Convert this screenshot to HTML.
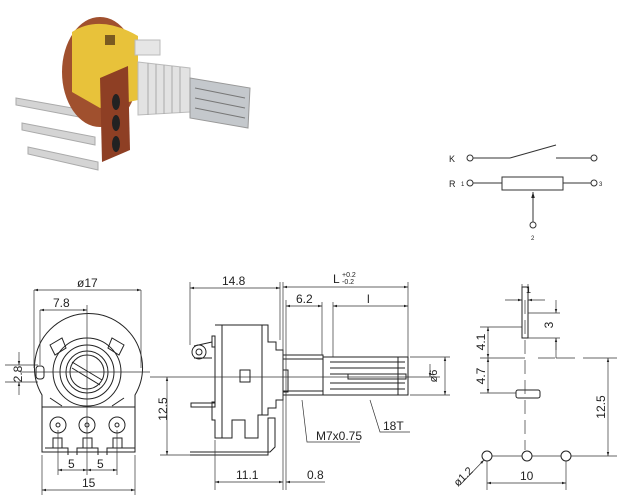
<!DOCTYPE html>
<html><head><style>
html,body{margin:0;padding:0;background:#fff;}
svg{display:block;}
text{font-family:"Liberation Sans",sans-serif;fill:#222;}
</style></head><body>
<svg width="620" height="500" viewBox="0 0 620 500" xmlns="http://www.w3.org/2000/svg">
<defs>
<marker id="a" viewBox="0 0 10 10" refX="10" refY="5" markerWidth="6" markerHeight="6" orient="auto-start-reverse"><path d="M0,2L10,5L0,8z" fill="#222"/></marker>
</defs>
<rect width="620" height="500" fill="#fff"/>
<!-- photo -->
<g>
<path d="M16,98 L95,112 L95,120 L16,105z" fill="#d4d4d4" stroke="#aaa"/>
<path d="M22,123 L95,137 L95,145 L22,130z" fill="#d4d4d4" stroke="#aaa"/>
<path d="M28,147 L98,162 L98,170 L28,154z" fill="#d4d4d4" stroke="#aaa"/>
<ellipse cx="100" cy="72" rx="38" ry="55" fill="#a0502e"/>
<path d="M72,32 Q100,14 138,36 L138,100 L100,108 L72,92z" fill="#e8c23a"/>
<rect x="105" y="35" width="10" height="10" fill="#7a5a20"/>
<path d="M100,78 L128,66 L130,150 L102,162z" fill="#8e3f24"/>
<ellipse cx="116" cy="102" rx="4" ry="8" fill="#222"/>
<ellipse cx="116" cy="123" rx="4" ry="8" fill="#222"/>
<ellipse cx="116" cy="144" rx="4" ry="8" fill="#222"/>
<path d="M135,40 L160,40 L160,55 L135,55z" fill="#e6e6e6" stroke="#bbb"/>
<path d="M138,62 L190,68 L190,112 L138,115z" fill="#e2e2e2" stroke="#bbb"/>
<path d="M148,63 L148,115 M156,64 L156,114 M164,65 L164,114 M172,66 L172,113 M180,67 L180,113" stroke="#aaa"/>
<path d="M190,78 L250,88 L248,128 L190,118z" fill="#c4c8cc" stroke="#999"/>
<path d="M195,88 L245,98 M195,98 L245,108 M195,108 L245,118" stroke="#777"/>
</g>
<!-- schematic -->
<g stroke="#333" stroke-width="1" fill="none">
<circle cx="470" cy="158" r="3"/><line x1="473" y1="158" x2="510" y2="158"/><line x1="510" y1="158" x2="556" y2="145"/>
<line x1="556" y1="158" x2="591" y2="158"/><circle cx="594" cy="158" r="3"/>
<circle cx="470" cy="183" r="3"/><line x1="473" y1="183" x2="502" y2="183"/>
<rect x="502" y="177" width="61" height="13"/>
<line x1="563" y1="183" x2="591" y2="183"/><circle cx="594" cy="183" r="3"/>
<line x1="533" y1="222" x2="533" y2="192" marker-end="url(#a)"/><circle cx="533" cy="225" r="3"/>
</g>
<text x="449" y="162" font-size="9">K</text>
<text x="449" y="187" font-size="9">R</text>
<text x="461" y="186" font-size="6">1</text>
<text x="599" y="186" font-size="6">3</text>
<text x="531" y="240" font-size="6">2</text>
<!-- front view -->
<g stroke="#222" stroke-width="1" fill="none">
<path d="M42,407 L42,395 A54,54 0 1 1 135,395 L135,407"/>
<rect x="42" y="407" width="93" height="45"/>
<circle cx="87" cy="372" r="34"/>
<circle cx="87" cy="372" r="27"/>
<circle cx="87" cy="372" r="21"/>
<circle cx="87" cy="372" r="17"/>
<line x1="72" y1="362" x2="102" y2="380"/><line x1="72" y1="368" x2="100" y2="385"/>
<path d="M50,345 L62,338 L66,348 L55,355z"/><path d="M124,345 L112,338 L108,348 L119,355z"/>
<path d="M50,398 L62,406 M124,398 L112,406"/>
<rect x="36" y="366" width="8" height="13" rx="3"/>
<circle cx="58" cy="425" r="8"/><circle cx="87" cy="425" r="8"/><circle cx="117" cy="425" r="8"/>
<circle cx="58" cy="425" r="2"/><circle cx="87" cy="425" r="2"/><circle cx="117" cy="425" r="2"/>
<rect x="53" y="438" width="9" height="10"/><rect x="83" y="438" width="9" height="10"/><rect x="113" y="438" width="9" height="10"/>
<path d="M45,448 L68,448 L68,455 M77,455 L77,448 L98,448 L98,455 M107,455 L107,448 L135,448"/>
</g>
<g stroke="#333" stroke-width="0.7" fill="none">
<line x1="20" y1="372" x2="150" y2="372"/><line x1="87" y1="305" x2="87" y2="475"/>
<line x1="34" y1="290" x2="34" y2="368"/><line x1="141" y1="290" x2="141" y2="368"/>
<line x1="34" y1="290" x2="141" y2="290" marker-start="url(#a)" marker-end="url(#a)"/>
<line x1="40" y1="310" x2="40" y2="365"/>
<line x1="40" y1="310" x2="87" y2="310" marker-start="url(#a)" marker-end="url(#a)"/>
<line x1="5" y1="365" x2="38" y2="365"/><line x1="5" y1="382" x2="38" y2="382"/>
<line x1="19" y1="352" x2="19" y2="365" marker-end="url(#a)"/><line x1="19" y1="395" x2="19" y2="382" marker-end="url(#a)"/>
<line x1="58" y1="430" x2="58" y2="475"/><line x1="117" y1="430" x2="117" y2="475"/>
<line x1="58" y1="470" x2="87" y2="470" marker-start="url(#a)" marker-end="url(#a)"/>
<line x1="87" y1="470" x2="117" y2="470" marker-start="url(#a)" marker-end="url(#a)"/>
<line x1="42" y1="455" x2="42" y2="495"/><line x1="135" y1="455" x2="135" y2="495"/>
<line x1="42" y1="490" x2="135" y2="490" marker-start="url(#a)" marker-end="url(#a)"/>
</g>
<text x="77" y="287" font-size="12">ø17</text>
<text x="53" y="307" font-size="12">7.8</text>
<text x="15" y="381" font-size="12" transform="rotate(-90 15 374)" text-anchor="middle">2.8</text>
<text x="68" y="468" font-size="12">5</text>
<text x="97" y="468" font-size="12">5</text>
<text x="82" y="487" font-size="12">15</text>
<!-- side view -->
<g stroke="#222" stroke-width="1" fill="none">
<path d="M215,325 L268,325 L268,342 L276,342 L276,350 L283,350 L283,370 L288,370 L288,392 L283,392 L283,400 L276,400 L276,408 L268,408 L268,415 L258,415 L258,438 L245,438 L245,420 L232,420 L232,438 L215,438 L215,420 L212,420 L212,402 L215,402 L215,336 L212,336 L212,347 L215,347"/>
<line x1="222" y1="325" x2="222" y2="438"/><line x1="262" y1="325" x2="262" y2="415"/>
<rect x="240" y="370" width="10" height="12"/>
<circle cx="199" cy="352" r="7"/><circle cx="199" cy="352" r="3"/>
<path d="M194,346 L212,342 M194,358 L212,358"/>
<rect x="191" y="403" width="24" height="4"/>
<path d="M190,452 L270,452 L275,447 L275,418 L268,418 L268,455 L190,455"/>
<rect x="283" y="355" width="40" height="40"/>
<line x1="283" y1="359" x2="323" y2="359"/><line x1="283" y1="391" x2="323" y2="391"/>
<rect x="323" y="357" width="85" height="38"/>
<path d="M330,362 L405,362 M330,368 L405,368 M330,374 L405,374 M330,383 L405,383 M330,389 L405,389"/>
<rect x="348" y="374" width="58" height="5"/>
<line x1="398" y1="357" x2="398" y2="395"/>
</g>
<g stroke="#333" stroke-width="0.7" fill="none">
<line x1="150" y1="377" x2="440" y2="377"/>
<line x1="190" y1="282" x2="190" y2="345"/><line x1="280" y1="282" x2="280" y2="340"/>
<line x1="190" y1="288" x2="280" y2="288" marker-start="url(#a)" marker-end="url(#a)"/>
<line x1="283" y1="282" x2="283" y2="490"/><line x1="286" y1="300" x2="286" y2="490"/>
<line x1="408" y1="282" x2="408" y2="357"/>
<line x1="283" y1="287" x2="408" y2="287" marker-start="url(#a)" marker-end="url(#a)"/>
<line x1="322" y1="302" x2="322" y2="355"/><line x1="333" y1="302" x2="333" y2="357"/>
<line x1="286" y1="306" x2="322" y2="306" marker-start="url(#a)" marker-end="url(#a)"/>
<line x1="333" y1="306" x2="408" y2="306" marker-start="url(#a)" marker-end="url(#a)"/>
<line x1="410" y1="357" x2="450" y2="357"/><line x1="410" y1="395" x2="450" y2="395"/>
<line x1="445" y1="357" x2="445" y2="395" marker-start="url(#a)" marker-end="url(#a)"/>
<line x1="430" y1="364" x2="430" y2="377" marker-end="url(#a)"/>
<line x1="160" y1="455" x2="190" y2="455"/>
<line x1="167" y1="377" x2="167" y2="455" marker-start="url(#a)" marker-end="url(#a)"/>
<line x1="215" y1="440" x2="215" y2="490"/>
<line x1="215" y1="482" x2="283" y2="482" marker-start="url(#a)" marker-end="url(#a)"/>
<line x1="325" y1="482" x2="286" y2="482" marker-end="url(#a)"/>
<polyline points="302,400 307,442 360,442"/>
<polyline points="370,400 380,432 410,432"/>
</g>
<text x="222" y="285" font-size="12">14.8</text>
<text x="333" y="283" font-size="12">L</text>
<text x="342" y="277" font-size="7">+0.2</text>
<text x="342" y="284" font-size="7">-0.2</text>
<text x="296" y="303" font-size="12">6.2</text>
<text x="367" y="303" font-size="12">l</text>
<text x="435" y="378" font-size="11" transform="rotate(-90 435 376)" text-anchor="middle">ø6</text>
<text x="165" y="411" font-size="12" transform="rotate(-90 165 409)" text-anchor="middle">12.5</text>
<text x="236" y="479" font-size="12">11.1</text>
<text x="307" y="479" font-size="12">0.8</text>
<text x="316" y="440" font-size="12">M7x0.75</text>
<text x="383" y="430" font-size="12">18T</text>
<!-- right view -->
<g stroke="#222" stroke-width="1" fill="none">
<rect x="522" y="287" width="6" height="51"/>
<rect x="516" y="390" width="24" height="8" rx="2"/>
<circle cx="487" cy="456" r="5"/><circle cx="527" cy="456" r="5"/><circle cx="566" cy="456" r="5"/>
</g>
<g stroke="#333" stroke-width="0.7" fill="none">
<line x1="525" y1="300" x2="525" y2="450" stroke-dasharray="14,6"/>
<line x1="480" y1="358" x2="525" y2="358"/>
<line x1="538" y1="358" x2="555" y2="358"/><line x1="556" y1="358" x2="575" y2="358"/><line x1="583" y1="358" x2="617" y2="358"/>
<line x1="556" y1="338" x2="556" y2="358"/>
<line x1="492" y1="456" x2="522" y2="456"/><line x1="532" y1="456" x2="561" y2="456"/><line x1="571" y1="456" x2="617" y2="456"/>
<line x1="528" y1="313" x2="560" y2="313"/><line x1="528" y1="338" x2="560" y2="338"/>
<line x1="556" y1="300" x2="556" y2="313" marker-end="url(#a)"/><line x1="556" y1="350" x2="556" y2="338" marker-end="url(#a)"/>
<line x1="522" y1="284" x2="522" y2="300"/><line x1="528" y1="284" x2="528" y2="300"/>
<line x1="505" y1="300" x2="522" y2="300" marker-end="url(#a)"/><line x1="545" y1="300" x2="528" y2="300" marker-end="url(#a)"/>
<line x1="480" y1="327" x2="522" y2="327"/>
<line x1="488" y1="327" x2="488" y2="358" marker-start="url(#a)" marker-end="url(#a)"/>
<line x1="480" y1="393" x2="516" y2="393"/>
<line x1="488" y1="358" x2="488" y2="393" marker-start="url(#a)" marker-end="url(#a)"/>
<line x1="608" y1="358" x2="608" y2="456" marker-start="url(#a)" marker-end="url(#a)"/>
<line x1="487" y1="461" x2="487" y2="490"/><line x1="566" y1="461" x2="566" y2="490"/>
<line x1="487" y1="483" x2="566" y2="483" marker-start="url(#a)" marker-end="url(#a)"/>
<line x1="460" y1="485" x2="484" y2="460" marker-end="url(#a)"/>
</g>
<text x="552" y="326" font-size="12" transform="rotate(-90 552 325)" text-anchor="middle">3</text>
<text x="526" y="293" font-size="9">1</text>
<text x="484" y="343" font-size="12" transform="rotate(-90 484 342)" text-anchor="middle">4.1</text>
<text x="484" y="377" font-size="12" transform="rotate(-90 484 376)" text-anchor="middle">4.7</text>
<text x="604" y="408" font-size="12" transform="rotate(-90 604 407)" text-anchor="middle">12.5</text>
<text x="520" y="480" font-size="12">10</text>
<text x="458" y="487" font-size="11" transform="rotate(-45 458 487)">ø1.2</text>
</svg>
</body></html>
